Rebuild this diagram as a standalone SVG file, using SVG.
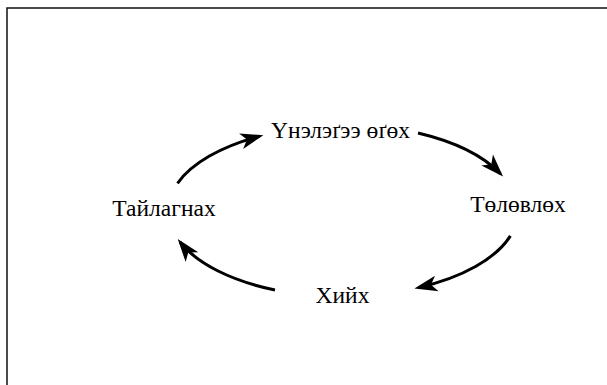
<svg xmlns="http://www.w3.org/2000/svg" width="607" height="385" viewBox="0 0 607 385">
<style>
.lbl{font-family:"Liberation Serif","Times New Roman",serif;font-size:23.5px;fill:#000;text-anchor:middle}
.edge{fill:none;stroke:#000;stroke-width:3;marker-end:url(#ah)}
</style>
<defs>
<marker id="ah" markerUnits="userSpaceOnUse" orient="auto" markerWidth="32" markerHeight="20" viewBox="-22 -10 32 20" refX="0" refY="0">
<path d="M4,0 L-19,-8 L-13,0 L-19,8 Z" fill="#000"/>
</marker>
</defs>
<rect x="7" y="8" width="640" height="420" fill="#fff" stroke="#111" stroke-width="1.5"/>
<g id="connectors">
<path class="edge" d="M177.5,183.3 A175,85 0 0,1 259.5,136.3"/>
<path class="edge" d="M418,133 A175,85 0 0,1 500.3,173.7"/>
<path class="edge" d="M510.4,235.9 A175,85 0 0,1 418.3,287.7"/>
<path class="edge" d="M275,290 A175,85 0 0,1 180.2,242.2"/>
</g>
<g id="n1"><text class="lbl" x="340.5" y="138">Үнэлэґээ өґөх</text></g>
<g id="n2"><text class="lbl" x="518" y="212">Төлөвлөх</text></g>
<g id="n3"><text class="lbl" x="342.5" y="303">Хийх</text></g>
<g id="n4"><text class="lbl" x="164" y="216">Тайлагнах</text></g>
</svg>
